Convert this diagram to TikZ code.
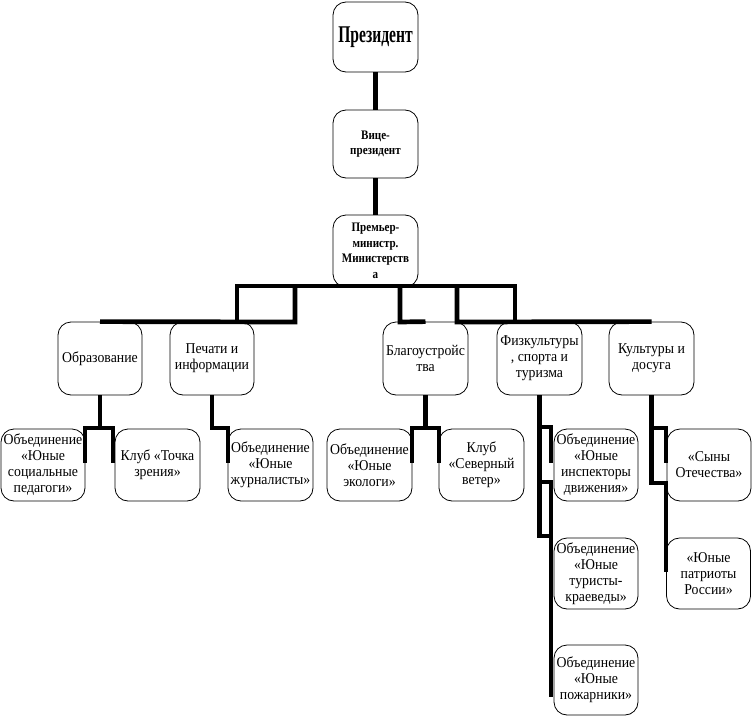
\documentclass[tikz,border=0pt]{standalone}
\usepackage{fontspec}
\newfontfamily\nf{Liberation Serif}[FakeStretch=0.92]
\newfontfamily\pf{Liberation Serif}[FakeStretch=0.65]
\newfontfamily\sbf{Liberation Serif}[FakeStretch=0.85]
\tikzset{
  box/.style={draw, line width=0.8pt, rounded corners=13pt, fill=white, align=center,
    inner sep=1pt, minimum width=85pt, minimum height=72pt,
    font=\nf\fontsize{15}{16}\selectfont},
  topbox/.style={box, font=\sbf\bfseries\fontsize{13}{15.5}\selectfont},
  conn/.style={line width=4.7pt, line join=miter, line cap=butt}
}
\begin{document}
\begin{tikzpicture}[x=1pt,y=-1pt]
\useasboundingbox (0,0) rectangle (752,717);
\fill[white] (0,0) rectangle (752,717);
% top chain
\node[box, minimum height=70pt, font=\pf\bfseries\fontsize{24}{26}\selectfont] (pres) at (375.5,37) {Президент};
\node[topbox, minimum height=68pt] (vice) at (375.5,144) {Вице-\\президент};
\node[topbox] (prem) at (375.5,251) {Премьер-\\министр.\\Министерств\\а};
% level 2
\node[box, minimum height=73pt, minimum width=84pt] (obr) at (100,358.5) {Образование};
\node[box, minimum height=73pt, minimum width=84pt] (pech) at (212,358.5) {Печати и\\информации};
\node[box, minimum height=73pt] (blag) at (425.5,358.5) {Благоустройс\\тва};
\node[box, minimum height=73pt] (fiz) at (539.5,358.5) {Физкультуры\\, спорта и\\туризма};
\node[box, minimum height=73pt] (kult) at (651.5,358.5) {Культуры и\\досуга};
% level 3
\node[box, minimum width=84pt] (l1) at (43,465) {Объединение\\«Юные\\социальные\\педагоги»};
\node[box] (l2) at (157.5,465) {Клуб «Точка\\зрения»};
\node[box] (l3) at (270.5,465) {Объединение\\«Юные\\журналисты»};
\node[box] (l4) at (369.5,465) {Объединение\\«Юные\\экологи»};
\node[box] (l5) at (481.5,465) {Клуб\\«Северный\\ветер»};
\node[box, minimum width=84pt] (l6) at (596,465) {Объединение\\«Юные\\инспекторы\\движения»};
\node[box, minimum width=84pt] (l7) at (709,465) {«Сыны\\Отечества»};
\node[box, minimum width=84pt, minimum height=71pt] (l8) at (596,573.5) {Объединение\\«Юные\\туристы-\\краеведы»};
\node[box, minimum width=84pt, minimum height=71pt] (l9) at (708.5,573.5) {«Юные\\патриоты\\России»};
\node[box, minimum width=84pt, minimum height=70pt] (l10) at (596,680) {Объединение\\«Юные\\пожарники»};
% coordinates
\coordinate (tA) at (237,286);
\coordinate (tB) at (295,286);
\coordinate (tC) at (400,286);
\coordinate (tD) at (457,286);
\coordinate (tE) at (515,286);
\coordinate (uA) at (237,322);
\coordinate (uB) at (295,322);
\coordinate (uC) at (400,322);
\coordinate (uD) at (457,322);
\coordinate (uE) at (515,322);
\coordinate (oJ) at (100,428);
\coordinate (oL) at (85,428);
\coordinate (oR) at (113,428);
\coordinate (oLb) at (85,463);
\coordinate (oRb) at (113,463);
\coordinate (pJ) at (212,428);
\coordinate (pR) at (228,428);
\coordinate (pRb) at (228,463);
\coordinate (bJ) at (425.5,428);
\coordinate (bL) at (412,428);
\coordinate (bR) at (439,428);
\coordinate (bLb) at (412,463);
\coordinate (bRb) at (439,463);
\coordinate (fA) at (539.5,427);
\coordinate (fB) at (551,427);
\coordinate (fBb) at (551,463);
\coordinate (fC) at (539.5,482);
\coordinate (fD) at (551,482);
\coordinate (fDb) at (551,697);
\coordinate (fE) at (539.5,536);
\coordinate (fF) at (551,536);
\coordinate (kA) at (651.5,428);
\coordinate (kB) at (666,428);
\coordinate (kBb) at (666,463);
\coordinate (kC) at (651.5,483);
\coordinate (kD) at (666,483);
\coordinate (kDb) at (666,572);
% connectors
\draw[conn] (pres.south) -- (vice.north);
\draw[conn] (vice.south) -- (prem.north);
\draw[conn] (uA) -- (tA) -- (tE) -- (uE);
\draw[conn] (obr.north) -- (uB) -- (tB);
\draw[conn] (tC) -- (uC) -- (blag.north);
\draw[conn] (tD) -- (uD) -- (kult.north);
\draw[conn] (obr.south) -- (oJ);
\draw[conn] (oLb) -- (oL) -- (oR) -- (oRb);
\draw[conn] (pech.south) -- (pJ) -- (pR) -- (pRb);
\draw[conn] (blag.south) -- (bJ);
\draw[conn] (bLb) -- (bL) -- (bR) -- (bRb);
\draw[conn] (fiz.south) -- (fE) -- (fF);
\draw[conn] (fA) -- (fB) -- (fBb);
\draw[conn] (fC) -- (fD) -- (fDb);
\draw[conn] (kult.south) -- (kC) -- (kD) -- (kDb);
\draw[conn] (kA) -- (kB) -- (kBb);
\end{tikzpicture}
\end{document}
